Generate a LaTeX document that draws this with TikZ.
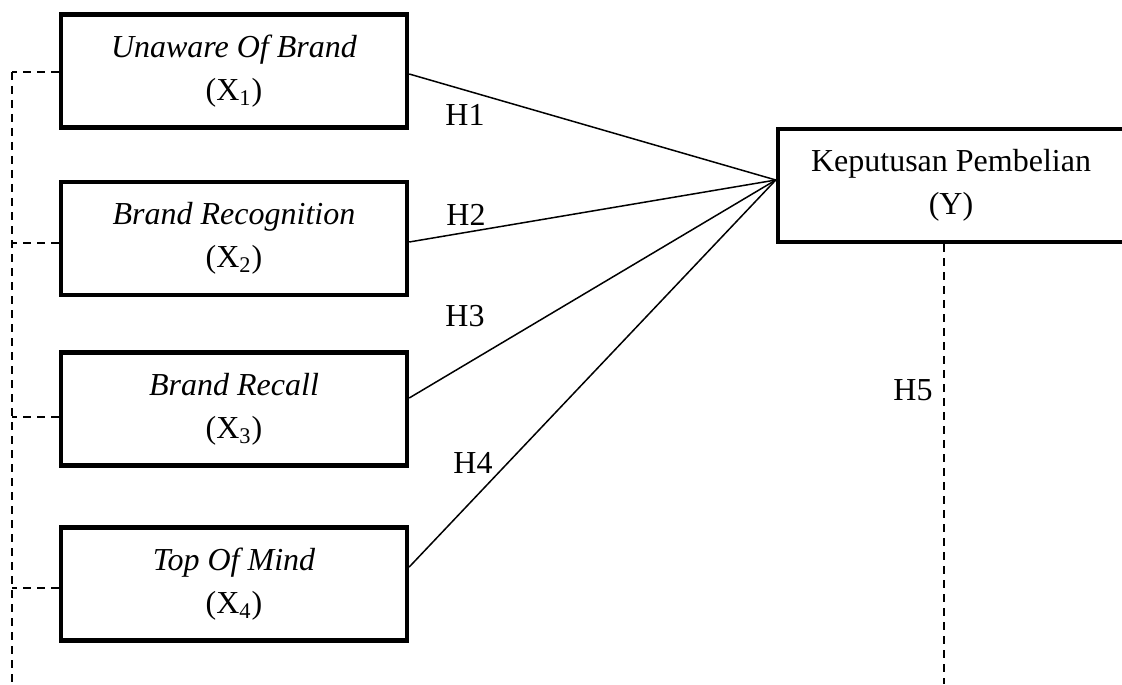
\documentclass[tikz,border=0pt]{standalone}
\usepackage{fontspec}
\setmainfont{Liberation Serif}
\begin{document}
\begin{tikzpicture}[x=0.5pt,y=-0.5pt,
  box/.style={draw, line width=2.2pt, minimum width=173pt, minimum height=56.5pt,
    align=center, inner sep=0pt, font=\fontsize{16}{21.5}\selectfont},
  conn/.style={line width=0.75pt},
  dsh/.style={line width=0.8pt, dash pattern=on 4pt off 3pt},
  hlab/.style={font=\fontsize{16}{20}\selectfont, inner sep=0pt}]
\useasboundingbox (0,0) rectangle (1122,684);
\begin{scope}
\clip (0,0) rectangle (1122,684);
\node[box] (X1) at (234,71) {\textit{Unaware Of Brand}\\(X\textsubscript{1})};
\node[box] (X2) at (234,238.5) {\textit{Brand Recognition}\\(X\textsubscript{2})};
\node[box] (X3) at (234,409) {\textit{Brand Recall}\\(X\textsubscript{3})};
\node[box] (X4) at (234,584) {\textit{Top Of Mind}\\(X\textsubscript{4})};
\node[box] (Y) at (951,185.5) {Keputusan Pembelian\\(Y)};

\coordinate (yin) at ([yshift=2.75pt]Y.west);
\draw[conn] ([yshift=-1.5pt]X1.east) -- (yin);
\draw[conn] ([yshift=-1.75pt]X2.east) -- (yin);
\draw[conn] ([yshift=5.5pt]X3.east) -- (yin);
\draw[conn] ([yshift=8.5pt]X4.east) -- (yin);

\coordinate (b1) at (12,72);
\coordinate (b2) at (12,243);
\coordinate (b3) at (12,417);
\coordinate (b4) at (12,588);
\coordinate (bot) at (12,684);
\draw[dsh] (b1) -- (bot);
\draw[dsh] (X1.west |- b1) -- (b1);
\draw[dsh] (X2.west |- b2) -- (b2);
\draw[dsh] (X3.west |- b3) -- (b3);
\draw[dsh] (X4.west |- b4) -- (b4);

\coordinate (ybot) at (944,684);
\draw[dsh] (Y.south -| ybot) -- (ybot);

\node[hlab] (H1) at (465,115) {H1};
\node[hlab] (H2) at (466,215) {H2};
\node[hlab] (H3) at (465,316) {H3};
\node[hlab] (H4) at (473,463) {H4};
\node[hlab] (H5) at (913,390) {H5};
\end{scope}
\end{tikzpicture}
\end{document}
